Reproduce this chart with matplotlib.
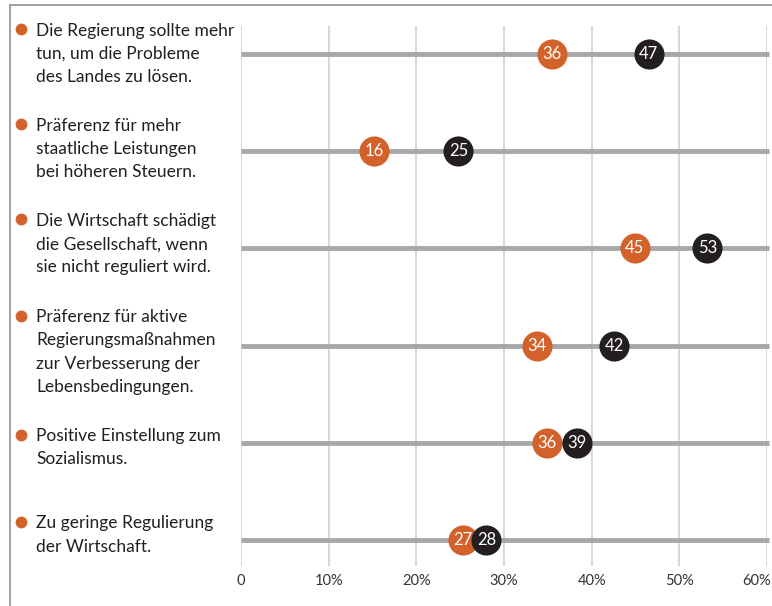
import matplotlib
matplotlib.use("Agg")
import matplotlib.pyplot as plt
import matplotlib.transforms as mtransforms
from matplotlib.lines import Line2D

# ---- data ----
categories = [
    "Die Regierung sollte mehr\ntun, um die Probleme\ndes Landes zu lösen.",
    "Präferenz für mehr\nstaatliche Leistungen\nbei höheren Steuern.",
    "Die Wirtschaft schädigt\ndie Gesellschaft, wenn\nsie nicht reguliert wird.",
    "Präferenz für aktive\nRegierungsmaßnahmen\nzur Verbesserung der\nLebensbedingungen.",
    "Positive Einstellung zum\nSozialismus.",
    "Zu geringe Regulierung\nder Wirtschaft.",
]
orange_pos = [35.5, 15.2, 44.9, 33.8, 34.9, 25.3]
orange_lbl = ["36", "16", "45", "34", "36", "27"]
black_pos = [46.5, 24.8, 53.2, 42.6, 38.3, 28.0]
black_lbl = ["47", "25", "53", "42", "39", "28"]
xticks = [0, 10, 20, 30, 40, 50, 60]
xtick_labels = ["0", "10%", "20%", "30%", "40%", "50%", "60%"]

# ---- style ----
ORANGE = "#d2622a"
BLACK = "#231f20"
ROWLINE = "#a7a8aa"
GRID = "#d4d4d4"
TEXT = "#231f20"
FONT = ["Lato", "DejaVu Sans"]
plt.rcParams["font.family"] = FONT

W, H = 772, 606
fig = plt.figure(figsize=(W / 100, H / 100), dpi=100)
ax = fig.add_axes([241 / W, 1 - 566 / H, 526 / W, 540 / H])

n = len(categories)
ax.set_xlim(0, 60)
ax.set_ylim(5.27, -0.29)

for x in xticks:
    ax.axvline(x, color=GRID, lw=1.3, zorder=0)

for i in range(n):
    ax.plot([0, 60.2], [i, i], color=ROWLINE, lw=3.5, solid_capstyle="butt", zorder=1, clip_on=False)

ys = list(range(n))
ax.scatter(orange_pos, ys, s=470, color=ORANGE, zorder=3, linewidths=0)
ax.scatter(black_pos, ys, s=470, color=BLACK, zorder=4, linewidths=0)
for i in range(n):
    ax.text(orange_pos[i], i, orange_lbl[i], color="white", ha="center", va="center",
            fontsize=12, zorder=3.5)
    ax.text(black_pos[i], i, black_lbl[i], color="white", ha="center", va="center",
            fontsize=12, zorder=4.5)

ax.set_xticks(xticks)
ax.set_xticklabels(xtick_labels, fontsize=10.5, color="#333333")
ax.tick_params(axis="x", length=0, pad=6)
last = ax.get_xticklabels()[-1]
last.set_ha("right")
last.set_transform(last.get_transform() + mtransforms.ScaledTranslation(0.04, 0, fig.dpi_scale_trans))
ax.set_yticks([])
for s in ax.spines.values():
    s.set_visible(False)

# category labels (first line center offset from row, in px; negative = above)
first_line_off = [-24, -26, -28, -29, -7, -17]
trans = ax.get_yaxis_transform()
for i, lab in enumerate(categories):
    up_px = -first_line_off[i]
    ax.annotate(lab, xy=((36 - 241) / 526, i), xycoords=trans,
                xytext=(0, (up_px + 7.5) * 0.72), textcoords="offset points",
                ha="left", va="top", fontsize=12.5, color=TEXT, linespacing=1.56,
                annotation_clip=False)
    bullet = Line2D([(21 - 241) / 526], [i], marker="o", markersize=7.5,
                    color=ORANGE, linestyle="none", clip_on=False)
    bullet.set_transform(trans + mtransforms.ScaledTranslation(0, (up_px + 1) / 100, fig.dpi_scale_trans))
    ax.add_artist(bullet)

# frame (top and left)
fig.add_artist(Line2D([10 / W, 1], [1 - 4.5 / H, 1 - 4.5 / H], transform=fig.transFigure,
                      color="#a0a0a0", lw=1.4))
fig.add_artist(Line2D([10 / W, 10 / W], [0, 1 - 4.5 / H], transform=fig.transFigure,
                      color="#a0a0a0", lw=1.4))

fig.savefig("out.png", dpi=100)
